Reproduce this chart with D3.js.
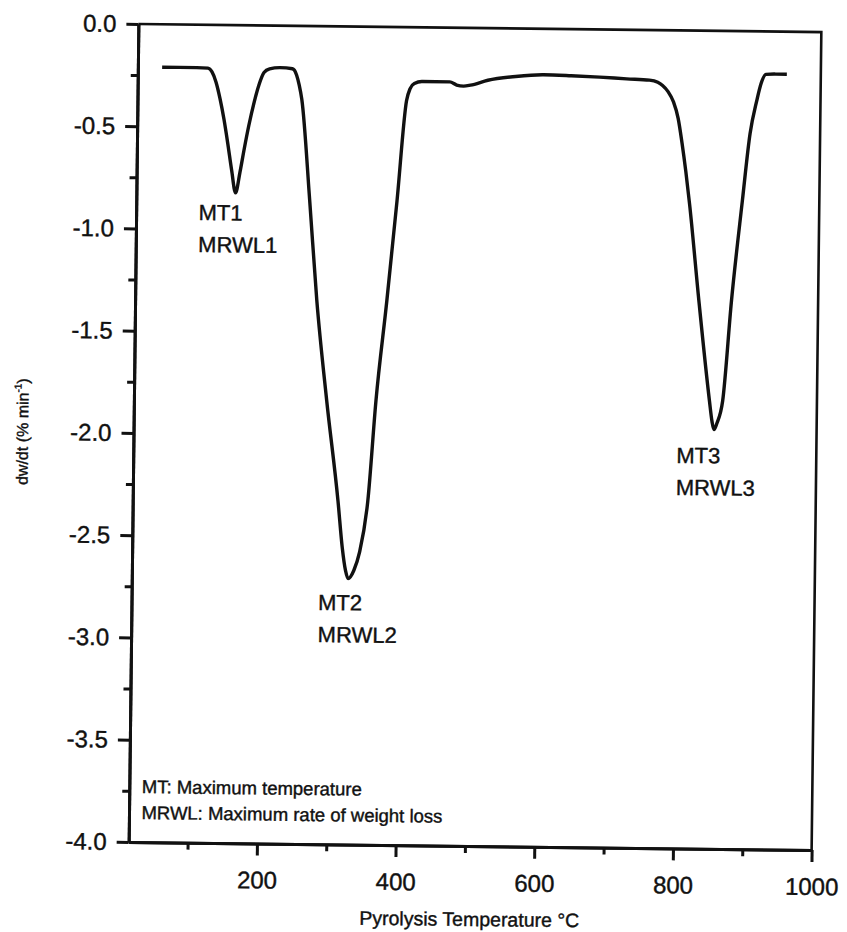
<!DOCTYPE html>
<html>
<head>
<meta charset="utf-8">
<script src="https://cdn.jsdelivr.net/npm/d3@7"></script>
<style>
  body { margin: 0; background: #fff; }
  text { font-family: 'Liberation Sans', Arial, sans-serif; fill: #111; stroke: #111; stroke-width: 0.4px; }
</style>
</head>
<body>
<svg id="chart" width="847" height="932"></svg>
<script>
// DTG curve
const temperature = [50, 100, 116, 122, 128, 134, 140, 146, 152, 158, 164, 170, 176, 183, 190, 197, 205, 220,
    238, 244, 248, 252, 265, 277, 293, 311, 318, 323, 327, 335, 343, 354, 364, 378, 391, 403, 408, 414,
    425, 465, 475, 485, 495, 520, 560, 600, 640, 681, 720, 753, 765, 772, 780, 788, 795, 801, 807, 813, 828, 845,
    849, 852, 856, 864, 875, 889, 899, 908, 914, 921, 935, 951]
const dwdt = [-0.21, -0.21, -0.212, -0.23, -0.28, -0.36, -0.46, -0.58, -0.71, -0.82, -0.72, -0.60, -0.49, -0.38, -0.29, -0.23, -0.212, -0.205,
    -0.21, -0.24, -0.29, -0.36, -0.85, -1.34, -1.83, -2.32, -2.55, -2.66, -2.70, -2.66, -2.57, -2.32, -1.83, -1.34, -0.85, -0.36, -0.30, -0.275,
    -0.265, -0.265, -0.28, -0.285, -0.28, -0.255, -0.235, -0.225, -0.228, -0.233, -0.24, -0.245, -0.255, -0.27, -0.30, -0.35, -0.43, -0.55, -0.69, -0.85, -1.32, -1.81,
    -1.91, -1.95, -1.92, -1.81, -1.32, -0.83, -0.50, -0.34, -0.255, -0.21, -0.208, -0.208]

const xMajorTicks = [200, 400, 600, 800, 1000]
const xMinorTicks = [100, 300, 500, 700, 900]
const yMajorTicks = [0, -0.5, -1, -1.5, -2, -2.5, -3, -3.5, -4]
const yMinorTicks = [-0.25, -0.75, -1.25, -1.75, -2.25, -2.75, -3.25, -3.75]

const peakNames = ['MT1', 'MT2', 'MT3']
const peakRates = ['MRWL1', 'MRWL2', 'MRWL3']
const peakLabelT = [105, 284, 798]
const peakLabelV = [-0.955, -2.855, -2.115]

const legendLines = ['MT: Maximum temperature', 'MRWL: Maximum rate of weight loss']

const margin = { top: 28, left: 133.5 }
const innerW = 683, innerH = 818

let svg = d3.select('#chart')

// the scan is tilted a little clockwise
let root = svg.append('g')
    .attr('transform', 'rotate(0.68, 475, 437)')

let g = root.append('g')
    .attr('transform', 'translate(' + margin.left + ',' + margin.top + ')')

let x = d3.scaleLinear()
    .domain([15, 1000])
    .range([0, innerW])

let y = d3.scaleLinear()
    .domain([-4, 0])
    .range([innerH, 0])

// frame top + right
g.append('path')
    .attr('d', 'M0,0H' + innerW + 'V' + innerH)
    .attr('fill', 'none')
    .attr('stroke', '#111')
    .attr('stroke-width', 2.6)

// y axis
let yAxis = g.append('g')
    .call(d3.axisLeft(y).tickValues(yMajorTicks).tickSize(12).tickSizeOuter(0)
        .tickFormat(d => d.toFixed(1)))
yAxis.append('g')
    .call(d3.axisLeft(y).tickValues(yMinorTicks).tickSize(7).tickSizeOuter(0).tickFormat(''))
yAxis.selectAll('text')
    .attr('x', -22)
    .style('font-size', '24px')

// x axis
let xAxis = g.append('g')
    .attr('transform', 'translate(0,' + innerH + ')')
    .call(d3.axisBottom(x).tickValues(xMajorTicks).tickSize(12).tickSizeOuter(0)
        .tickFormat(d => String(d)))
xAxis.append('g')
    .call(d3.axisBottom(x).tickValues(xMinorTicks).tickSize(7).tickSizeOuter(0).tickFormat(''))
xAxis.selectAll('text')
    .attr('y', 0)
    .attr('dy', 45)
    .style('font-size', '24px')

g.selectAll('.domain, .tick line')
    .attr('stroke', '#111')
    .attr('stroke-width', 3)

// curve
let line = d3.line()
    .x((d, i) => x(temperature[i]))
    .y(d => y(d))
    .curve(d3.curveMonotoneX)

g.append('path')
    .datum(dwdt)
    .attr('d', line)
    .attr('fill', 'none')
    .attr('stroke', '#111')
    .attr('stroke-width', 3.4)
    .attr('stroke-linejoin', 'round')

// peak labels
let peaks = g.append('g')
    .selectAll('g')
    .data(peakNames)
    .enter().append('g')
    .attr('transform', (d, i) => 'translate(' + x(peakLabelT[i]) + ',' + y(peakLabelV[i]) + ')')

peaks.append('text')
    .style('font-size', '22px')
    .text(d => d)

peaks.append('text')
    .attr('y', 32)
    .style('font-size', '22px')
    .text((d, i) => peakRates[i])

// legend note
g.append('g')
    .selectAll('text')
    .data(legendLines)
    .enter().append('text')
    .attr('x', 12.5)
    .attr('y', (d, i) => innerH - 49 + i * 26)
    .style('font-size', '18.5px')
    .text(d => d)

// axis titles
root.append('text')
    .attr('x', 475)
    .attr('y', 926)
    .attr('text-anchor', 'middle')
    .style('font-size', '19.5px')
    .text('Pyrolysis Temperature °C')

let yTitle = root.append('text')
    .attr('transform', 'translate(28,437) rotate(-90)')
    .attr('text-anchor', 'middle')
    .style('font-size', '16px')
yTitle.append('tspan').text('dw/dt (% min')
yTitle.append('tspan').attr('dy', -7).style('font-size', '10px').text('-1')
yTitle.append('tspan').attr('dy', 7).text(')')
</script>
</body>
</html>
